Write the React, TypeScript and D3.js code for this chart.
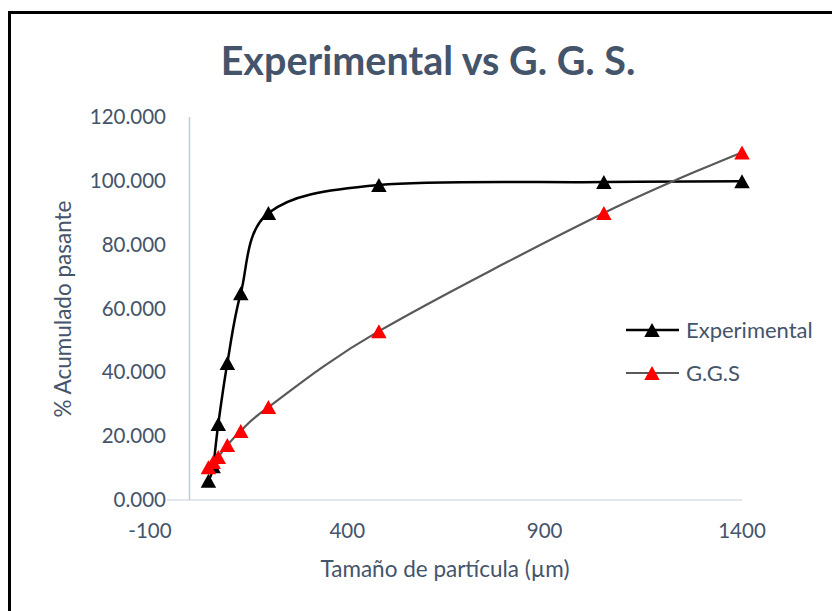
import React from "react";
import * as d3 from "d3";

const sizes = [48, 60, 73, 96, 130, 200, 480, 1050, 1400];
const experimental = [6.0, 10.6, 23.8, 42.9, 64.8, 89.9, 98.7, 99.6, 99.9];
const ggs = [10.3, 11.9, 13.5, 17.2, 21.6, 29.1, 52.9, 89.9, 108.9];
const xTicks = [-100, 400, 900, 1400];
const yTicks = [0, 20, 40, 60, 80, 100, 120];
const seriesNames = ["Experimental", "G.G.S"];

const W = 832;
const H = 611;
const TEXT = "#44546A";
const FONT = "Lato, 'Open Sans', sans-serif";

function tri(cx: number, cy: number, w = 15.5, h = 14) {
  return `M${cx},${cy - h / 2}L${cx + w / 2},${cy + h / 2}L${cx - w / 2},${cy + h / 2}Z`;
}

export default function App() {
  const x = d3.scaleLinear().domain([-100, 1400]).range([150, 742]);
  const y = d3.scaleLinear().domain([0, 120]).range([500, 117]);
  const line = d3
    .line<[number, number]>()
    .x((d) => x(d[0]))
    .y((d) => y(d[1]))
    .curve(d3.curveCatmullRom.alpha(0));
  const expPts: [number, number][] = sizes.map((s, i) => [s, experimental[i]]);
  const ggsPts: [number, number][] = sizes.map((s, i) => [s, ggs[i]]);
  const series = [
    { name: seriesNames[0], pts: expPts, line: "#000000", mark: "#000000", lw: 2.5 },
    { name: seriesNames[1], pts: ggsPts, line: "#595959", mark: "#FF0000", lw: 2.2 },
  ];
  return (
    <svg
      width={W}
      height={H}
      style={{ position: "fixed", left: 0, top: 0, background: "#fff" }}
      fontFamily={FONT}
    >
      <rect x={0} y={0} width={W} height={H} fill="#fff" />
      <rect x={9.5} y={12.5} width={W + 20} height={H + 20} fill="none" stroke="#000" strokeWidth={3} />
      <text x={428} y={75} textAnchor="middle" fontSize={39.5} fontWeight="bold" fill={TEXT}>
        Experimental vs G. G. S.
      </text>
      {/* axes */}
      <line x1={167} x2={x(1400)} y1={y(0)} y2={y(0)} stroke="#D9DEE8" strokeWidth={1.5} />
      <line x1={x(0)} x2={x(0)} y1={y(0)} y2={y(120)} stroke="#BFCADB" strokeWidth={1.5} />
      {yTicks.map((t) => (
        <text key={t} x={166} y={y(t) + 7} textAnchor="end" fontSize={20.5} fill={TEXT}>
          {d3.format(".3f")(t)}
        </text>
      ))}
      {xTicks.map((t) => (
        <text key={t} x={x(t)} y={538} textAnchor="middle" fontSize={20.5} fill={TEXT}>
          {t}
        </text>
      ))}
      <text x={445} y={577} textAnchor="middle" fontSize={22.5} fill={TEXT}>
        Tamaño de partícula (µm)
      </text>
      <text
        transform={`translate(71, 309) rotate(-90)`}
        textAnchor="middle"
        fontSize={22.5}
        fill={TEXT}
      >
        % Acumulado pasante
      </text>
      {/* series */}
      {series.map((s) => (
        <path key={s.name + "l"} d={line(s.pts) || ""} fill="none" stroke={s.line} strokeWidth={s.lw} />
      ))}
      {series.map((s) => (
        <g key={s.name + "m"}>
          {s.pts.map((p, i) => (
            <path key={i} d={tri(x(p[0]), y(p[1]))} fill={s.mark} />
          ))}
        </g>
      ))}
      {/* legend */}
      {series.map((s, i) => {
        const ly = 330 + i * 43;
        return (
          <g key={s.name + "lg"}>
            <line x1={626} x2={679} y1={ly} y2={ly} stroke={s.line} strokeWidth={s.lw} />
            <path d={tri(652, ly)} fill={s.mark} />
            <text x={686} y={ly + 8} fontSize={22} fill={TEXT}>
              {s.name}
            </text>
          </g>
        );
      })}
    </svg>
  );
}
